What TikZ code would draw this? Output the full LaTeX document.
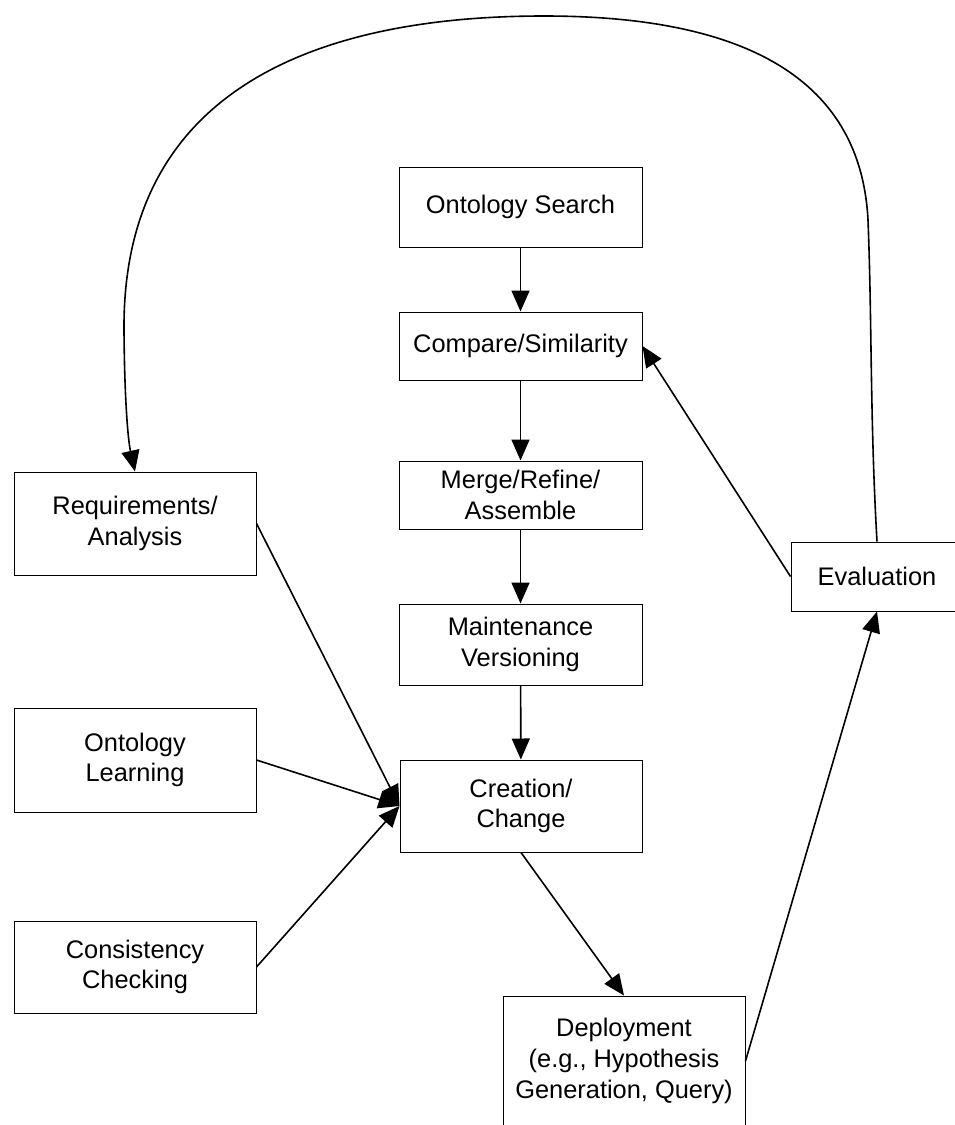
\documentclass[tikz,border=0pt]{standalone}
\usepackage{fontspec}
\setmainfont{Liberation Sans}
\usetikzlibrary{arrows.meta}

\begin{document}
\begin{tikzpicture}[x=0.5pt,y=-0.5pt,
  stage/.style={draw,line width=0.5pt,align=center,inner sep=0pt,
    font=\fontsize{12.7}{15.4}\selectfont},
  flow/.style={-{Triangle[length=10.5pt,width=9pt]},line width=0.8pt}]
  \useasboundingbox (0,0) rectangle (954,1125);
  % Middle column
  \node[stage,minimum width=121.5pt,minimum height=40pt] (search) at (520.5,207) {Ontology Search};
  \node[stage,minimum width=121.5pt,minimum height=34pt] (compare) at (520.5,346) {Compare/Similarity};
  \node[stage,minimum width=121.5pt,minimum height=34pt] (merge) at (520.5,495) {Merge/Refine/\\Assemble};
  \node[stage,minimum width=121.5pt,minimum height=40.5pt] (maint) at (520.5,644.5) {Maintenance\\Versioning};
  \node[stage,minimum width=121pt,minimum height=46pt] (create) at (521,806) {Creation/\\Change};
  % Left column
  \node[stage,minimum width=121pt,minimum height=51.5pt] (req) at (135,523.5) {Requirements/\\Analysis};
  \node[stage,minimum width=121pt,minimum height=52pt] (learn) at (135,760) {Ontology\\Learning};
  \node[stage,minimum width=121pt,minimum height=46pt] (check) at (135,967) {Consistency\\Checking};
  % Right side
  \node[stage,minimum width=86pt,minimum height=34.5pt] (eval) at (877,576.5) {Evaluation};
  \node[stage,minimum width=121pt,minimum height=65pt] (deploy) at (624,1061) {Deployment\\(e.g., Hypothesis\\Generation, Query)};
  % Arrows
  \draw[flow] (search) -- (compare);
  \draw[flow] (compare) -- (merge);
  \draw[flow] (merge) -- (maint);
  \draw[flow] (maint) -- (create);
  \draw[flow] (req.east) -- (create.west);
  \draw[flow] (learn.east) -- (create.west);
  \draw[flow] (check.east) -- (create.west);
  \draw[flow] (create.south) -- (deploy.north);
  \draw[flow] (deploy.east) -- (eval.south);
  \draw[flow] (eval.west) -- (compare.east);
  % Loop back over the top
  \draw[flow] (eval.north) .. controls (870,420) and (872,320) .. (868,220)
    .. controls (860,64) and (720,16) .. (544,16)
    .. controls (360,16) and (122,64) .. (124,330)
    .. controls (124.5,400) and (128,440) .. (req.north);
\end{tikzpicture}
\end{document}
